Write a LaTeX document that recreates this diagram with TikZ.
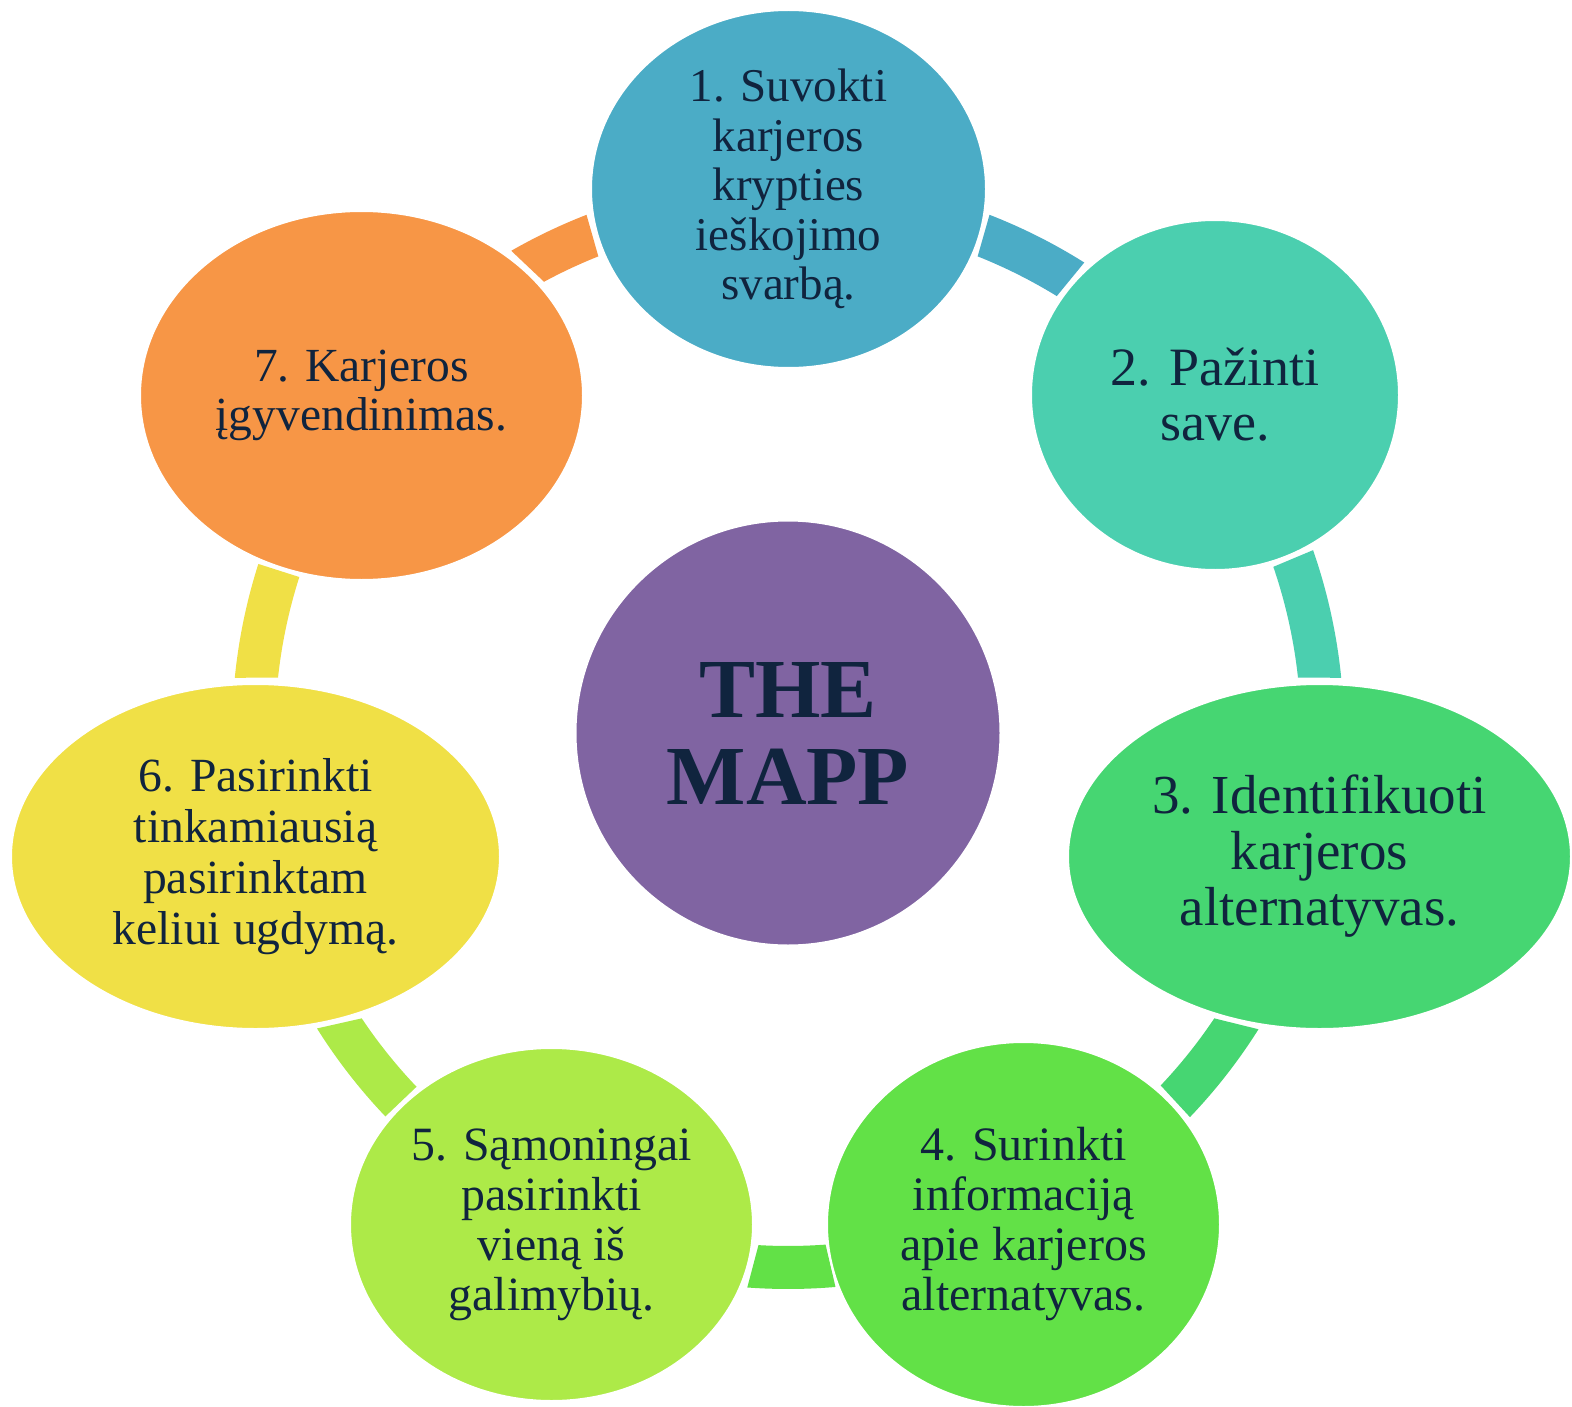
\documentclass[tikz,border=0pt]{standalone}
\usepackage{fontspec}
\setmainfont{Liberation Serif}
\usetikzlibrary{shapes.geometric}
\definecolor{txt}{RGB}{16,36,62}
\definecolor{cA}{HTML}{4BACC6}
\definecolor{cB}{HTML}{4BCFAF}
\definecolor{cC}{HTML}{46D672}
\definecolor{cD}{HTML}{62E147}
\definecolor{cE}{HTML}{ADEA48}
\definecolor{cF}{HTML}{F0E046}
\definecolor{cG}{HTML}{F79646}
\definecolor{cM}{HTML}{8064A2}
\begin{document}
\begin{tikzpicture}[x=1pt,y=-1pt,
  stage/.style={ellipse,draw=white,line width=2pt,inner sep=0pt,align=center,text=txt},
  band/.style={shift={(788,733)}}]
\useasboundingbox[fill=white] (0,0) rectangle (1572,1407);
% connectors (bands on the cycle)
\fill[cA,band] (-68.3:513) arc[start angle=-68.3,end angle=-58.4,radius=513] -- (-57.8:556) arc[start angle=-57.8,end angle=-68.75,radius=556] -- cycle;
\fill[cB,band] (-18.9:513) arc[start angle=-18.9,end angle=-6.2,radius=513] -- (-5.7:556) arc[start angle=-5.7,end angle=-19.2,radius=556] -- cycle;
\fill[cC,band] (33.8:513) arc[start angle=33.8,end angle=43.4,radius=513] -- (43.7:556) arc[start angle=43.7,end angle=32.2,radius=556] -- cycle;
\fill[cD,band] (85.8:513) arc[start angle=85.8,end angle=93.3,radius=513] -- (94.2:556) arc[start angle=94.2,end angle=85.1,radius=556] -- cycle;
\fill[cE,band] (136.4:513) arc[start angle=136.4,end angle=146.2,radius=513] -- (147.9:556) arc[start angle=147.9,end angle=136.4,radius=556] -- cycle;
\fill[cF,band] (186.2:513) arc[start angle=186.2,end angle=197.7,radius=513] -- (197.7:556) arc[start angle=197.7,end angle=185.7,radius=556] -- cycle;
\fill[cG,band] (241.6:513) arc[start angle=241.6,end angle=248.3,radius=513] -- (248.75:556) arc[start angle=248.75,end angle=240.15,radius=556] -- cycle;
% centre
\node[circle,fill=cM,draw=white,line width=2pt,inner sep=0pt,minimum size=425pt,align=center,text=txt,
  font=\fontsize{84}{87}\selectfont\bfseries] (m) at (788,733) {THE\\MAPP};
% stages
\node[stage,fill=cA,minimum width=395pt,minimum height=358pt,font=\fontsize{47}{49.5}\selectfont] (s1) at (788.5,189) {1. Suvokti\\karjeros\\krypties\\ieškojimo\\svarbą.};
\node[stage,fill=cB,minimum width=368pt,minimum height=350pt,font=\fontsize{54}{55}\selectfont] (s2) at (1215,395) {2. Pažinti\\save.};
\node[stage,fill=cC,minimum width=503pt,minimum height=345pt,font=\fontsize{55}{56}\selectfont] (s3) at (1319.5,856.5) {3. Identifikuoti\\karjeros\\alternatyvas.};
\node[stage,fill=cD,minimum width=393pt,minimum height=365pt,font=\fontsize{48}{50}\selectfont] (s4) at (1023.5,1224.5) {4. Surinkti\\informaciją\\apie karjeros\\alternatyvas.};
\node[stage,fill=cE,minimum width=403pt,minimum height=353pt,font=\fontsize{47.8}{50}\selectfont] (s5) at (551.5,1224.5) {5. Sąmoningai\\pasirinkti\\vieną iš\\galimybių.};
\node[stage,fill=cF,minimum width=489pt,minimum height=345pt,font=\fontsize{47.6}{51}\selectfont] (s6) at (255.5,856.5) {6. Pasirinkti\\tinkamiausią\\pasirinktam\\keliui ugdymą.};
\node[stage,fill=cG,minimum width=443pt,minimum height=369pt,font=\fontsize{47.5}{49}\selectfont] (s7) at (361.5,395.5) {7. Karjeros\\įgyvendinimas.};
\end{tikzpicture}
\end{document}
